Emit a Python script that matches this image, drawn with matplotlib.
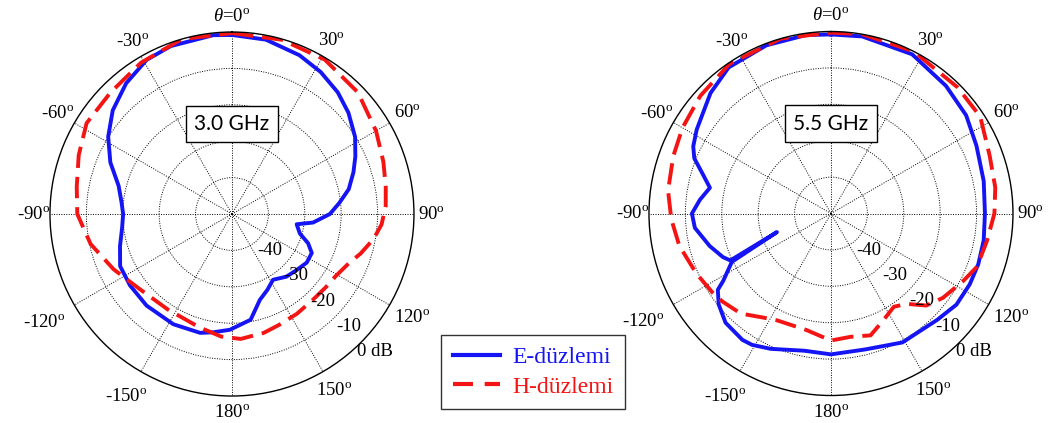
import numpy as np
import matplotlib
matplotlib.use("Agg")
import matplotlib.pyplot as plt
from matplotlib.lines import Line2D

plt.rcParams["font.family"] = ["Liberation Serif", "DejaVu Serif"]
plt.rcParams["mathtext.fontset"] = "custom"
plt.rcParams["mathtext.rm"] = "Liberation Serif"
plt.rcParams["mathtext.it"] = "Liberation Serif:italic"

# 3.0 GHz, E-plane (angle in deg, clockwise from broadside; gain in dB)
e30_ang = [0, 11, 23, 32, 41, 49, 58, 65, 71, 78, 84, 90, 96, 99, 106, 111, 116,
           123, 131, 139, 148, 155, 162, 170, 181, 189, 195, 208, 223, 235, 245,
           254, 263, 270, 276, 284, 293, 302, 311, 321, 331, 340, 354, 360]
e30_db = [-0.8, -1.2, -2.6, -4.0, -5.7, -7.6, -10.1, -12.6, -14.7, -17.2, -20.3,
          -23.1, -27.6, -32.0, -30.6, -27.6, -25.6, -25.5, -26.5, -27.2, -28.7,
          -27.0, -25.2, -20.5, -18.2, -17.1, -16.2, -15.7, -15.6, -15.8, -16.1,
          -18.0, -19.6, -20.1, -19.5, -17.9, -13.7, -9.9, -6.6, -3.8, -1.6, -0.9,
          -0.6, -0.8]

# 3.0 GHz, H-plane
h30_ang = [0, 16, 31, 46, 60, 71, 80, 87, 94, 100, 107, 113, 121, 128, 137, 147,
           157, 165, 176, 185, 196, 214, 231, 245, 258, 270, 280, 291, 302, 315,
           329, 344, 360]
h30_db = [-0.3, -0.2, -0.5, -1.9, -4.3, -6.0, -7.1, -7.7, -8.8, -10.5, -13.0,
          -15.2, -16.8, -17.3, -17.6, -17.3, -16.9, -16.2, -15.6, -16.2, -17.6,
          -18.4, -17.3, -14.1, -10.3, -7.5, -6.7, -4.9, -2.9, -2.8, -1.5, 0.0,
          -0.3]

# 5.5 GHz, E-plane
e55_ang = [0, 10, 27, 42, 54, 65, 78, 90, 100, 109, 117, 126, 135, 151, 166, 180,
           191, 204, 211, 215, 224, 231, 236, 238, 244, 251, 245, 248, 255, 264,
           270, 276, 282, 287, 292, 296, 302, 315, 325, 339, 352, 360]
e55_db = [-0.8, -0.6, -0.9, -2.8, -4.1, -5.9, -7.1, -7.7, -7.4, -7.2, -7.2, -7.4,
          -8.7, -9.5, -11.5, -11.3, -11.6, -9.3, -7.9, -7.6, -8.3, -10.3, -12.5,
          -15.1, -19.7, -34.3, -19.5, -18.0, -15.5, -12.4, -11.8, -13.8, -16.0,
          -13.2, -9.5, -7.9, -6.5, -3.2, -1.0, -0.5, -0.5, -0.8]

# 5.5 GHz, H-plane
h55_ang = [0, 10, 27, 45, 57, 70, 81, 90, 100, 110, 117, 127, 134, 140, 146, 154,
           162, 171, 180, 192, 207, 213, 222, 231, 236, 246, 258, 268, 278, 290,
           300, 312, 326, 344, 360]
h55_db = [-0.3, 0.0, 0.0, -0.9, -1.1, -3.6, -4.3, -5.1, -6.5, -7.3, -9.2, -11.5,
          -13.6, -17.6, -19.1, -17.3, -14.8, -15.7, -15.1, -17.3, -17.1, -15.9,
          -13.0, -11.6, -10.9, -9.5, -7.4, -6.1, -4.8, -3.9, -2.9, -1.7, -0.3,
          0.0, -0.3]

panel_freqs = ["3.0 GHz", "5.5 GHz"]
legend_labels = ["E-düzlemi", "H-düzlemi"]
rings = [-40, -30, -20, -10, 0]
ring_names = ["-40", "-30", "-20", "-10", "0 dB"]
spoke_angles = list(range(0, 360, 30))
spoke_names = [r"$\theta$=0$^{\rm o}$", r"30$^{\rm o}$", r"60$^{\rm o}$",
               r"90$^{\rm o}$", r"120$^{\rm o}$", r"150$^{\rm o}$", r"180$^{\rm o}$",
               r"-150$^{\rm o}$", r"-120$^{\rm o}$", r"-90$^{\rm o}$",
               r"-60$^{\rm o}$", r"-30$^{\rm o}$"]
# how far past the rim each angle label sits (dB)
spoke_pad = [4.4, 4.9, 5.6, 4.9, 7.1, 6.0, 4.6, 8.0, 9.6, 4.4, 5.2, 4.7]

BLUE = "#1414f5"
RED = "#f51414"


def draw_panel(ax, e_ang, e_db, h_ang, h_db, freq):
    ax.set_theta_zero_location("N")
    ax.set_theta_direction(-1)
    ax.set_ylim(-50, 0)
    ax.set_xticks(np.deg2rad(spoke_angles))
    ax.set_yticks(rings[:-1])
    ax.set_xticklabels([])
    ax.set_yticklabels([])
    ax.grid(True, color="black", linestyle=(0, (1, 1.5)), linewidth=0.7)
    ax.spines["polar"].set_linewidth(1.0)

    ax.plot(np.deg2rad(e_ang), e_db, color=BLUE, lw=2.8, solid_joinstyle="round")
    ax.plot(np.deg2rad(h_ang), h_db, color=RED, lw=2.8, dashes=(5.5, 2.3))

    for a, name, pad in zip(spoke_angles, spoke_names, spoke_pad):
        ax.text(np.deg2rad(a), pad, name, ha="center", va="center",
                fontsize=13.5, clip_on=False)
    for lvl, name in zip(rings, ring_names):
        ax.text(np.deg2rad(134), lvl + 4.5, name, ha="center", va="center",
                fontsize=13.5, clip_on=False)

    ax.text(0.5, 0.747, freq, transform=ax.transAxes, ha="center", va="center",
            fontsize=15, family="Lato", zorder=5,
            bbox=dict(boxstyle="square,pad=0.4", fc="white", ec="black", lw=1.0))


fig = plt.figure(figsize=(10.52, 4.23), dpi=100)
ax1 = fig.add_axes([0.0475, 0.0638, 0.346, 0.8605], projection="polar")
ax2 = fig.add_axes([0.6169, 0.0650, 0.346, 0.8605], projection="polar")

draw_panel(ax1, e30_ang, e30_db, h30_ang, h30_db, panel_freqs[0])
draw_panel(ax2, e55_ang, e55_db, h55_ang, h55_db, panel_freqs[1])

handles = [Line2D([], [], color=BLUE, lw=3),
           Line2D([], [], color=RED, lw=3, dashes=(4.8, 2.8))]
leg = fig.legend(handles, legend_labels, loc="center",
                 bbox_to_anchor=(533 / 1052, 1 - 372 / 423), fontsize=17,
                 frameon=True, fancybox=False, edgecolor="black",
                 handlelength=2.0, handletextpad=0.5, borderpad=0.5,
                 labelspacing=0.35, borderaxespad=0)
leg.get_frame().set_linewidth(1.0)
for txt, c in zip(leg.get_texts(), [BLUE, RED]):
    txt.set_color(c)

fig.savefig("out.png", dpi=100)
